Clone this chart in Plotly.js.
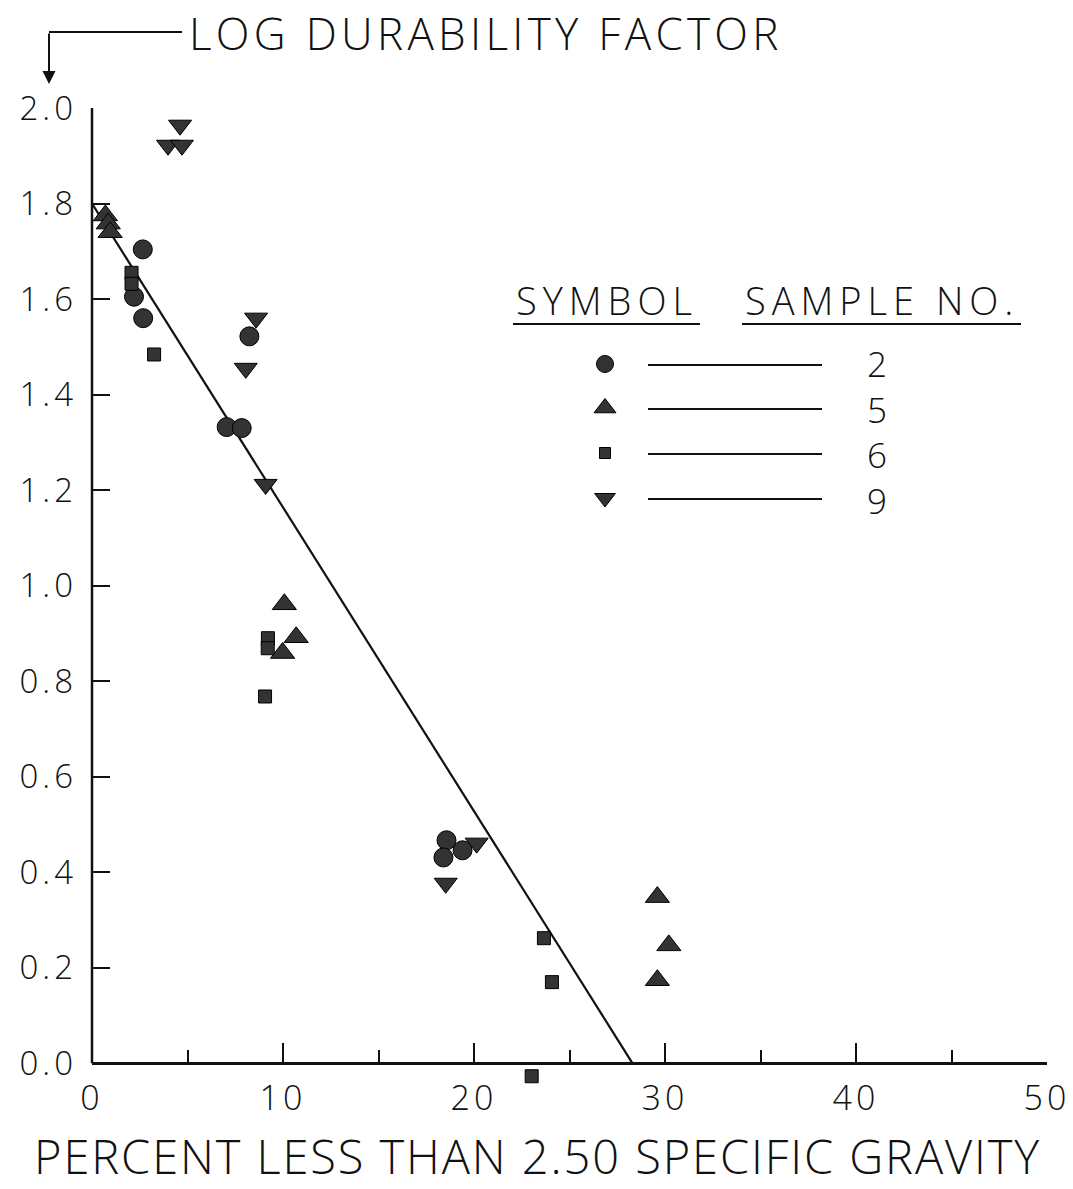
<!DOCTYPE html>
<html>
<head>
<meta charset="utf-8">
<script src="https://cdn.plot.ly/plotly-3.0.1.min.js"></script>
<style>html,body{margin:0;padding:0;background:#fff;}#chart{width:1073px;height:1189px;}</style>
</head>
<body>
<div id="chart"></div>
<script>
// ---- data ----
var sampleNames = ['2', '5', '6', '9'];
var sampleSymbols = ['circle', 'triangle-up', 'square', 'triangle-down'];

var s2x = [2.66, 2.2, 2.68, 8.24, 7.05, 7.84, 18.56, 18.4, 19.4];
var s2y = [1.704, 1.605, 1.56, 1.522, 1.332, 1.330, 0.467, 0.431, 0.446];

var s5x = [0.7, 0.85, 0.95, 10.07, 10.69, 9.98, 29.6, 30.2, 29.6];
var s5y = [1.775, 1.758, 1.74, 0.961, 0.892, 0.859, 0.348, 0.247, 0.174];

var s6x = [2.07, 2.07, 3.25, 9.21, 9.2, 9.06, 23.66, 24.08, 23.02];
var s6y = [1.655, 1.632, 1.484, 0.890, 0.869, 0.768, 0.262, 0.170, -0.027];

var s9x = [4.61, 3.98, 4.71, 8.59, 8.05, 9.09, 18.52, 20.14];
var s9y = [1.964, 1.922, 1.922, 1.560, 1.455, 1.212, 0.377, 0.461];

var fitX = [0, 28.3];
var fitY = [1.8, 0];

var xTickVals = [0, 10, 20, 30, 40, 50];
var xTickText = ['0', '10', '20', '30', '40', '50'];
var yTickVals = [0, 0.2, 0.4, 0.6, 0.8, 1.0, 1.2, 1.4, 1.6, 1.8, 2.0];
var yTickText = ['0.0', '0.2', '0.4', '0.6', '0.8', '1.0', '1.2', '1.4', '1.6', '1.8', '2.0'];

var xTitle = 'PERCENT LESS THAN 2.50 SPECIFIC GRAVITY';
var yTitle = 'LOG DURABILITY FACTOR';
var legendHead1 = 'SYMBOL';
var legendHead2 = 'SAMPLE NO.';

// ---- styling / layout ----
var FONT = '"Open Sans", "DejaVu Sans", sans-serif';
var INK = '#111';
var FILL = '#333333';
var markerSizes = [19, 21, 13, 20];
var legendSizes = [17, 19, 11, 18];

function spaced(t, px) { return '<span style="letter-spacing:' + px + 'px">' + t + '</span>'; }

var W = 1073, H = 1189;
var M = {l: 92, r: 26, t: 108, b: 97};
var yMin = -0.06, yMax = 2.0;

// helpers for pixel -> paper
function px(x) { return (x - M.l) / (W - M.l - M.r); }
function py(y) { return (H - M.b - y) / (H - M.t - M.b); }

var seriesX = [s2x, s5x, s6x, s9x];
var seriesY = [s2y, s5y, s6y, s9y];

var traces = [];
traces.push({
  x: fitX, y: fitY, mode: 'lines', type: 'scatter',
  line: {color: INK, width: 2.2}, hoverinfo: 'skip', showlegend: false, cliponaxis: false
});
for (var i = 0; i < 4; i++) {
  traces.push({
    x: seriesX[i], y: seriesY[i], mode: 'markers', type: 'scatter', name: sampleNames[i],
    marker: {symbol: sampleSymbols[i], size: markerSizes[i], color: FILL, opacity: 1, line: {color: '#000', width: 1}},
    cliponaxis: false, showlegend: false
  });
}

// legend keys drawn on a hidden overlay axis measured in page pixels
var legRowsY = [364, 408, 453, 498];
var legKeyX = 605;
for (var j = 0; j < 4; j++) {
  traces.push({
    x: [legKeyX], y: [legRowsY[j]],
    xaxis: 'x2', yaxis: 'y2', mode: 'markers', type: 'scatter', showlegend: false, hoverinfo: 'skip',
    marker: {symbol: sampleSymbols[j], size: legendSizes[j], color: FILL, opacity: 1, line: {color: '#000', width: 1}},
    cliponaxis: false
  });
}

var shapes = [];
var annotations = [];
// legend lines
for (var k = 0; k < 4; k++) {
  shapes.push({type: 'line', xref: 'x2', yref: 'y2', x0: 648, x1: 822, y0: legRowsY[k] + 1, y1: legRowsY[k] + 1,
    line: {color: INK, width: 2}});
}
// legend numbers (one block so rows share the line pitch)
annotations.push({xref: 'x2', yref: 'y2', x: 877, y: (legRowsY[0] + legRowsY[3]) / 2 + 1, text: sampleNames.join('<br>'),
  showarrow: false, xanchor: 'center', yanchor: 'middle', align: 'center',
  font: {family: FONT, size: 35, color: INK, weight: 300}});
// legend headers + underline
annotations.push({xref: 'x2', yref: 'y2', x: 607, y: 300, text: spaced(legendHead1, 6), showarrow: false,
  xanchor: 'center', yanchor: 'middle', font: {family: FONT, size: 38, color: INK, weight: 300}});
annotations.push({xref: 'x2', yref: 'y2', x: 882, y: 300, text: spaced(legendHead2, 6), showarrow: false,
  xanchor: 'center', yanchor: 'middle', font: {family: FONT, size: 38, color: INK, weight: 300}});
shapes.push({type: 'line', xref: 'x2', yref: 'y2', x0: 513, x1: 700, y0: 324, y1: 324, line: {color: INK, width: 2}});
shapes.push({type: 'line', xref: 'x2', yref: 'y2', x0: 742, x1: 1021, y0: 324, y1: 324, line: {color: INK, width: 2}});

// y axis line from 0 to 2.0
shapes.push({type: 'line', xref: 'paper', yref: 'y', x0: 0, x1: 0, y0: 0, y1: yMax, line: {color: INK, width: 2.5}});

// y-axis title with bent arrow
shapes.push({type: 'line', xref: 'paper', yref: 'paper', x0: px(49), x1: px(182), y0: py(32), y1: py(32),
  line: {color: INK, width: 2}});
annotations.push({xref: 'paper', yref: 'paper', x: px(49), y: py(84), ax: 0, ay: -52, text: '',
  showarrow: true, arrowhead: 2, arrowsize: 1.3, arrowwidth: 2, arrowcolor: INK, standoff: 0});
annotations.push({xref: 'paper', yref: 'paper', x: px(187), y: py(33), text: spaced(yTitle, 4.3), showarrow: false,
  xanchor: 'left', yanchor: 'middle', font: {family: FONT, size: 44, color: INK, weight: 300}});
// x-axis title
annotations.push({xref: 'paper', yref: 'paper', x: px(537), y: py(1156), text: spaced(xTitle, 1.9), showarrow: false,
  xanchor: 'center', yanchor: 'middle', font: {family: FONT, size: 47, color: INK, weight: 300}});

var layout = {
  width: W, height: H,
  margin: M,
  paper_bgcolor: '#fff', plot_bgcolor: '#fff',
  showlegend: false,
  font: {family: FONT, color: INK},
  xaxis: {
    range: [0, 50], anchor: 'free', position: (0 - yMin) / (yMax - yMin),
    showgrid: false, zeroline: false, showline: true, linecolor: INK, linewidth: 2.5,
    tickmode: 'array', tickvals: xTickVals, ticktext: xTickText.map(function (t) { return spaced(t, 4); }),
    ticks: 'inside', ticklen: 19, tickwidth: 2, tickcolor: INK,
    minor: {dtick: 5, tick0: 0, ticks: 'inside', ticklen: 12, tickwidth: 2, tickcolor: INK, showgrid: false},
    tickfont: {family: FONT, size: 34, color: INK, weight: 300},
    ticklabelstandoff: 4
  },
  yaxis: {
    range: [yMin, yMax],
    showgrid: false, zeroline: false, showline: false,
    tickmode: 'array', tickvals: yTickVals, ticktext: yTickText.map(function (t) { return spaced(t, 4); }),
    ticks: 'inside', ticklen: 18, tickwidth: 2, tickcolor: INK,
    tickfont: {family: FONT, size: 33, color: INK, weight: 300},
    ticklabelstandoff: 14
  },
  xaxis2: {overlaying: 'x', anchor: 'y2', range: [M.l, W - M.r], visible: false, showgrid: false, zeroline: false},
  yaxis2: {overlaying: 'y', anchor: 'x2', range: [H - M.b, M.t], visible: false, showgrid: false, zeroline: false},
  shapes: shapes,
  annotations: annotations
};

Plotly.newPlot('chart', traces, layout, {staticPlot: true, displayModeBar: false});
</script>
</body>
</html>
